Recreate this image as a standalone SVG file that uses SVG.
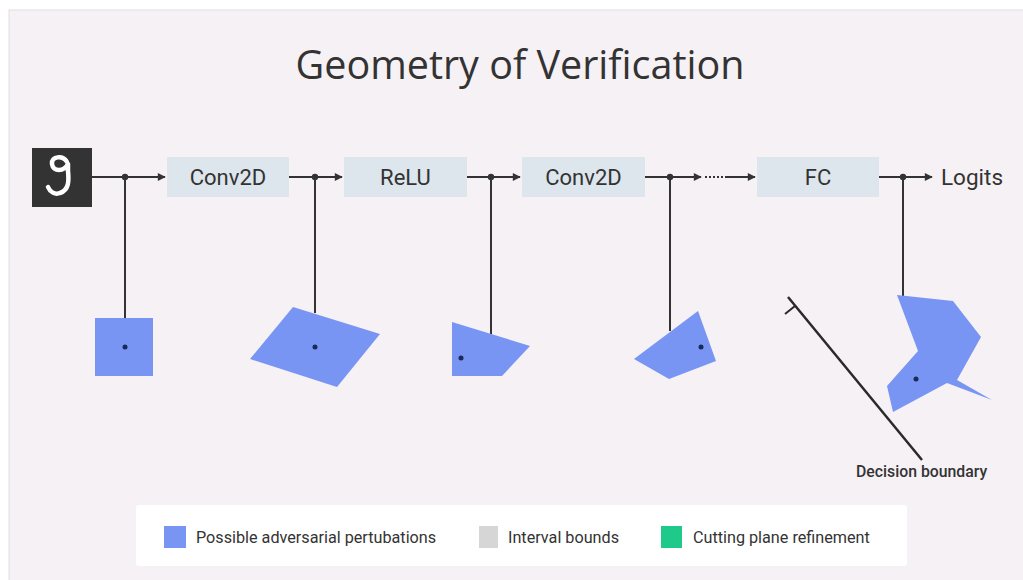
<svg xmlns="http://www.w3.org/2000/svg" width="1023" height="580" viewBox="0 0 1023 580">
  <style>
    .lbl { font-family: Roboto, "Liberation Sans", sans-serif; fill: #333333; }
    .box { fill: #dde6ec; }
    .wire { stroke: #333333; stroke-width: 2; fill: none; }
    .region { fill: #7895f4; }
    .pt { fill: #1b2a55; }
    .tap { fill: #333333; }
  </style>
  <defs>
    <marker id="arrow" viewBox="0 0 10 10" refX="9" refY="5" markerWidth="9" markerHeight="8" orient="auto" markerUnits="userSpaceOnUse">
      <path d="M0,0 L10,5 L0,10 z" fill="#333333"/>
    </marker>
  </defs>

  <!-- canvas -->
  <rect x="0" y="0" width="1023" height="580" fill="#ffffff"/>
  <rect x="9" y="10" width="1020" height="575" fill="#f6f1f5" stroke="#e2dde1" stroke-width="1"/>

  <text x="520" y="79" text-anchor="middle" font-family="'Open Sans', 'Liberation Sans', sans-serif" font-size="39.5" fill="#333333">Geometry of Verification</text>

  <!-- input digit -->
  <g id="input">
    <rect x="32" y="148" width="60" height="59" fill="#333333"/>
    <path d="M67 162 C63 155,51 156,52 164 C53 172,64 172,68 164 L68 171 C69 181,69 190,60 193 C55 195,50 192,48 187" stroke="#ffffff" stroke-width="4.5" fill="none" stroke-linecap="round" stroke-linejoin="round"/>
  </g>

  <!-- layers -->
  <g id="conv2d-1">
    <rect class="box" x="167" y="157" width="122" height="40"/>
    <text class="lbl" x="228" y="184.5" text-anchor="middle" font-size="22">Conv2D</text>
  </g>
  <g id="relu">
    <rect class="box" x="344" y="157" width="123" height="40"/>
    <text class="lbl" x="405.5" y="184.5" text-anchor="middle" font-size="22">ReLU</text>
  </g>
  <g id="conv2d-2">
    <rect class="box" x="522" y="157" width="123" height="40"/>
    <text class="lbl" x="583.5" y="184.5" text-anchor="middle" font-size="22">Conv2D</text>
  </g>
  <g id="fc">
    <rect class="box" x="757" y="157" width="122" height="40"/>
    <text class="lbl" x="818" y="184.5" text-anchor="middle" font-size="22">FC</text>
  </g>
  <g id="logits">
    <text class="lbl" x="941" y="184.5" font-size="22.5">Logits</text>
  </g>

  <!-- connectors -->
  <g id="connectors">
    <line class="wire" x1="92" y1="177" x2="165" y2="177" marker-end="url(#arrow)"/>
    <line class="wire" x1="289" y1="177" x2="342" y2="177" marker-end="url(#arrow)"/>
    <line class="wire" x1="467" y1="177" x2="520" y2="177" marker-end="url(#arrow)"/>
    <line class="wire" x1="645" y1="177" x2="701" y2="177" marker-end="url(#arrow)"/>
    <line class="wire" x1="705" y1="177" x2="727" y2="177" stroke-dasharray="2 2"/>
    <line class="wire" x1="727" y1="177" x2="755" y2="177" marker-end="url(#arrow)"/>
    <line class="wire" x1="879" y1="177" x2="932" y2="177" marker-end="url(#arrow)"/>

    <line class="wire" x1="125" y1="177" x2="125" y2="318"/>
    <line class="wire" x1="315" y1="177" x2="315" y2="313"/>
    <line class="wire" x1="491" y1="177" x2="491" y2="334"/>
    <line class="wire" x1="670" y1="177" x2="670" y2="331"/>
    <line class="wire" x1="903" y1="177" x2="903" y2="296"/>

    <circle class="tap" cx="125" cy="177" r="3.2"/>
    <circle class="tap" cx="315" cy="177" r="3.2"/>
    <circle class="tap" cx="491" cy="177" r="3.2"/>
    <circle class="tap" cx="670" cy="177" r="3.2"/>
    <circle class="tap" cx="903" cy="177" r="3.2"/>
  </g>

  <!-- perturbation regions -->
  <g id="region-input">
    <rect class="region" x="95" y="318" width="58" height="58"/>
    <circle class="pt" cx="125" cy="347" r="2.5"/>
  </g>
  <g id="region-conv2d-1">
    <polygon class="region" points="293,307 380,334 337,387 250,359"/>
    <circle class="pt" cx="315" cy="347" r="2.5"/>
  </g>
  <g id="region-relu">
    <polygon class="region" points="452,322 530,346 502,376 452,376"/>
    <circle class="pt" cx="461" cy="358" r="2.5"/>
  </g>
  <g id="region-conv2d-2">
    <polygon class="region" points="698,311 716,361 669,379 634,359"/>
    <circle class="pt" cx="701" cy="347" r="2.5"/>
  </g>
  <g id="region-fc">
    <polygon class="region" points="897,295 953,301 981,337 957,380 992,400 947,383 893,412 887,386 918,351"/>
    <circle class="pt" cx="916" cy="379" r="2.5"/>
  </g>

  <!-- decision boundary -->
  <g id="decision-boundary">
    <line x1="788" y1="297" x2="922" y2="460" stroke="#2a2a2a" stroke-width="2.5"/>
    <line x1="785" y1="314" x2="795" y2="306" stroke="#2a2a2a" stroke-width="2"/>
    <text class="lbl" x="856" y="477" font-size="15.8" font-weight="500">Decision boundary</text>
  </g>

  <!-- legend -->
  <g id="legend">
    <rect x="136" y="505" width="771" height="61" rx="3" fill="#ffffff"/>
    <rect x="164" y="526" width="22" height="22" fill="#7895f4"/>
    <text class="lbl" x="196" y="542.5" font-size="16.2">Possible adversarial pertubations</text>
    <rect x="479" y="526" width="19" height="22" fill="#d6d6d6"/>
    <text class="lbl" x="508" y="542.5" font-size="16.2">Interval bounds</text>
    <rect x="661" y="526" width="21" height="22" fill="#1ec98a"/>
    <text class="lbl" x="693" y="542.5" font-size="16.2">Cutting plane refinement</text>
  </g>
</svg>
